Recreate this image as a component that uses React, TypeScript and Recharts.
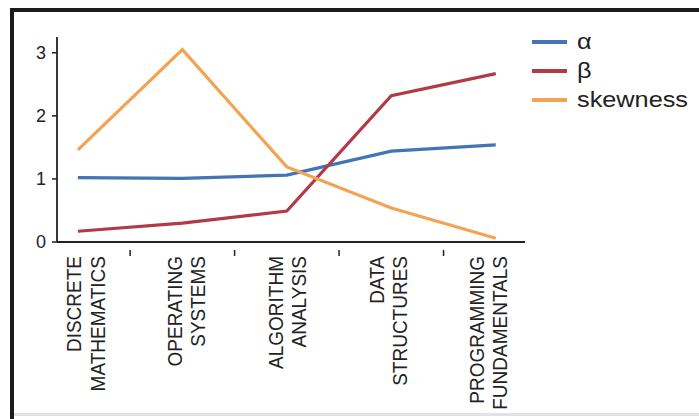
import { LineChart, Line, XAxis, YAxis, Legend } from "recharts";

// subjects along the x axis, one point each
const categories = [
  "DISCRETE MATHEMATICS",
  "OPERATING SYSTEMS",
  "ALGORITHM ANALYSIS",
  "DATA STRUCTURES",
  "PROGRAMMING FUNDAMENTALS",
];

const alpha = [1.02, 1.01, 1.06, 1.44, 1.54];
const beta = [0.17, 0.3, 0.49, 2.32, 2.67];
const skewness = [1.46, 3.05, 1.19, 0.54, 0.06];

const yTicks = [0, 1, 2, 3];

const BLUE = "#4474b4";
const RED = "#b23a46";
const ORANGE = "#f2a354";
const INK = "#222";
const FONT = "'Liberation Sans', Arial, sans-serif";

const data = categories.map((c, i) => ({
  idx: i,
  name: c,
  alpha: alpha[i],
  beta: beta[i],
  skewness: skewness[i],
}));

// labels on whole numbers, small ticks halfway between subjects
const xTicks = categories.flatMap((_, i) => (i === 0 ? [0] : [i - 0.5, i]));

function SubjectTick({ x, y, payload }: any) {
  const v = payload.value as number;
  if (!Number.isInteger(v)) {
    return <line x1={x} x2={x} y1={y} y2={y + 6} stroke={INK} strokeWidth={1.5} />;
  }
  const lines = categories[v].split(" ");
  const shift = 8 - 3.75 * v; // labels drift slightly left of the points
  return (
    <g transform={`translate(${x + shift},${y})`}>
      {/* source image is a little stretched sideways, so widen the glyphs */}
      <text
        transform="rotate(-90) scale(1,1.1)"
        textAnchor="end"
        fontSize={19}
        fontFamily={FONT}
        fill={INK}
      >
        {lines.map((l, k) => (
          <tspan key={k} x={-6} y={-4 + k * 21}>
            {l}
          </tspan>
        ))}
      </text>
    </g>
  );
}

function LegendBox({ payload }: any) {
  return (
    <svg width={174} height={110}>
      {(payload ?? []).map((e: any, i: number) => (
        <g key={e.value}>
          <line x1={7} x2={42} y1={22 + i * 29} y2={22 + i * 29} stroke={e.color} strokeWidth={4} />
          <text
            transform={`translate(52,${29 + i * 29}) scale(1.15,1)`}
            fontSize={22}
            fontFamily={FONT}
            fill={INK}
          >
            {e.value}
          </text>
        </g>
      ))}
    </svg>
  );
}

export default function App() {
  return (
    <div style={{ position: "absolute", left: 0, top: 0, width: 699, height: 419, background: "#fff", overflow: "hidden" }}>
      {/* dark frame of the original figure */}
      <div style={{ position: "absolute", left: 10, top: 8, width: 700, height: 420, borderTop: "4px solid #1c1c1c", borderLeft: "4px solid #1c1c1c" }} />
      <div style={{ position: "absolute", left: 14, top: 413, width: 690, height: 3, background: "#e2e2e2" }} />
      <LineChart
        width={699}
        height={419}
        data={data}
        margin={{ top: 37, right: 0, bottom: 0, left: 0 }}
        style={{ position: "absolute", left: 0, top: 0 }}
      >
        <XAxis
          dataKey="idx"
          type="number"
          domain={[-0.2, 4.28]}
          ticks={xTicks}
          interval={0}
          tick={<SubjectTick />}
          tickLine={false}
          height={177}
          axisLine={{ stroke: INK, strokeWidth: 1.8 }}
          allowDataOverflow
        />
        <YAxis
          domain={[0, 3.25]}
          ticks={yTicks}
          width={57}
          tickSize={5}
          tickMargin={6}
          tick={{ fontSize: 18, fontFamily: FONT, fill: INK }}
          tickLine={{ stroke: INK, strokeWidth: 1.5 }}
          axisLine={{ stroke: INK, strokeWidth: 1.8 }}
          allowDataOverflow
        />
        {/* the legend's 174px width becomes the right-hand offset of the plot */}
        <Legend
          layout="vertical"
          verticalAlign="top"
          align="right"
          itemSorter="dataKey"
          content={<LegendBox />}
          wrapperStyle={{ position: "absolute", left: 525, top: 20, width: 174, height: 110 }}
        />
        <Line dataKey="alpha" name="α" stroke={BLUE} strokeWidth={3.2} dot={false} type="linear" isAnimationActive={false} />
        <Line dataKey="beta" name="β" stroke={RED} strokeWidth={3.2} dot={false} type="linear" isAnimationActive={false} />
        <Line dataKey="skewness" name="skewness" stroke={ORANGE} strokeWidth={3.2} dot={false} type="linear" isAnimationActive={false} />
      </LineChart>
    </div>
  );
}
